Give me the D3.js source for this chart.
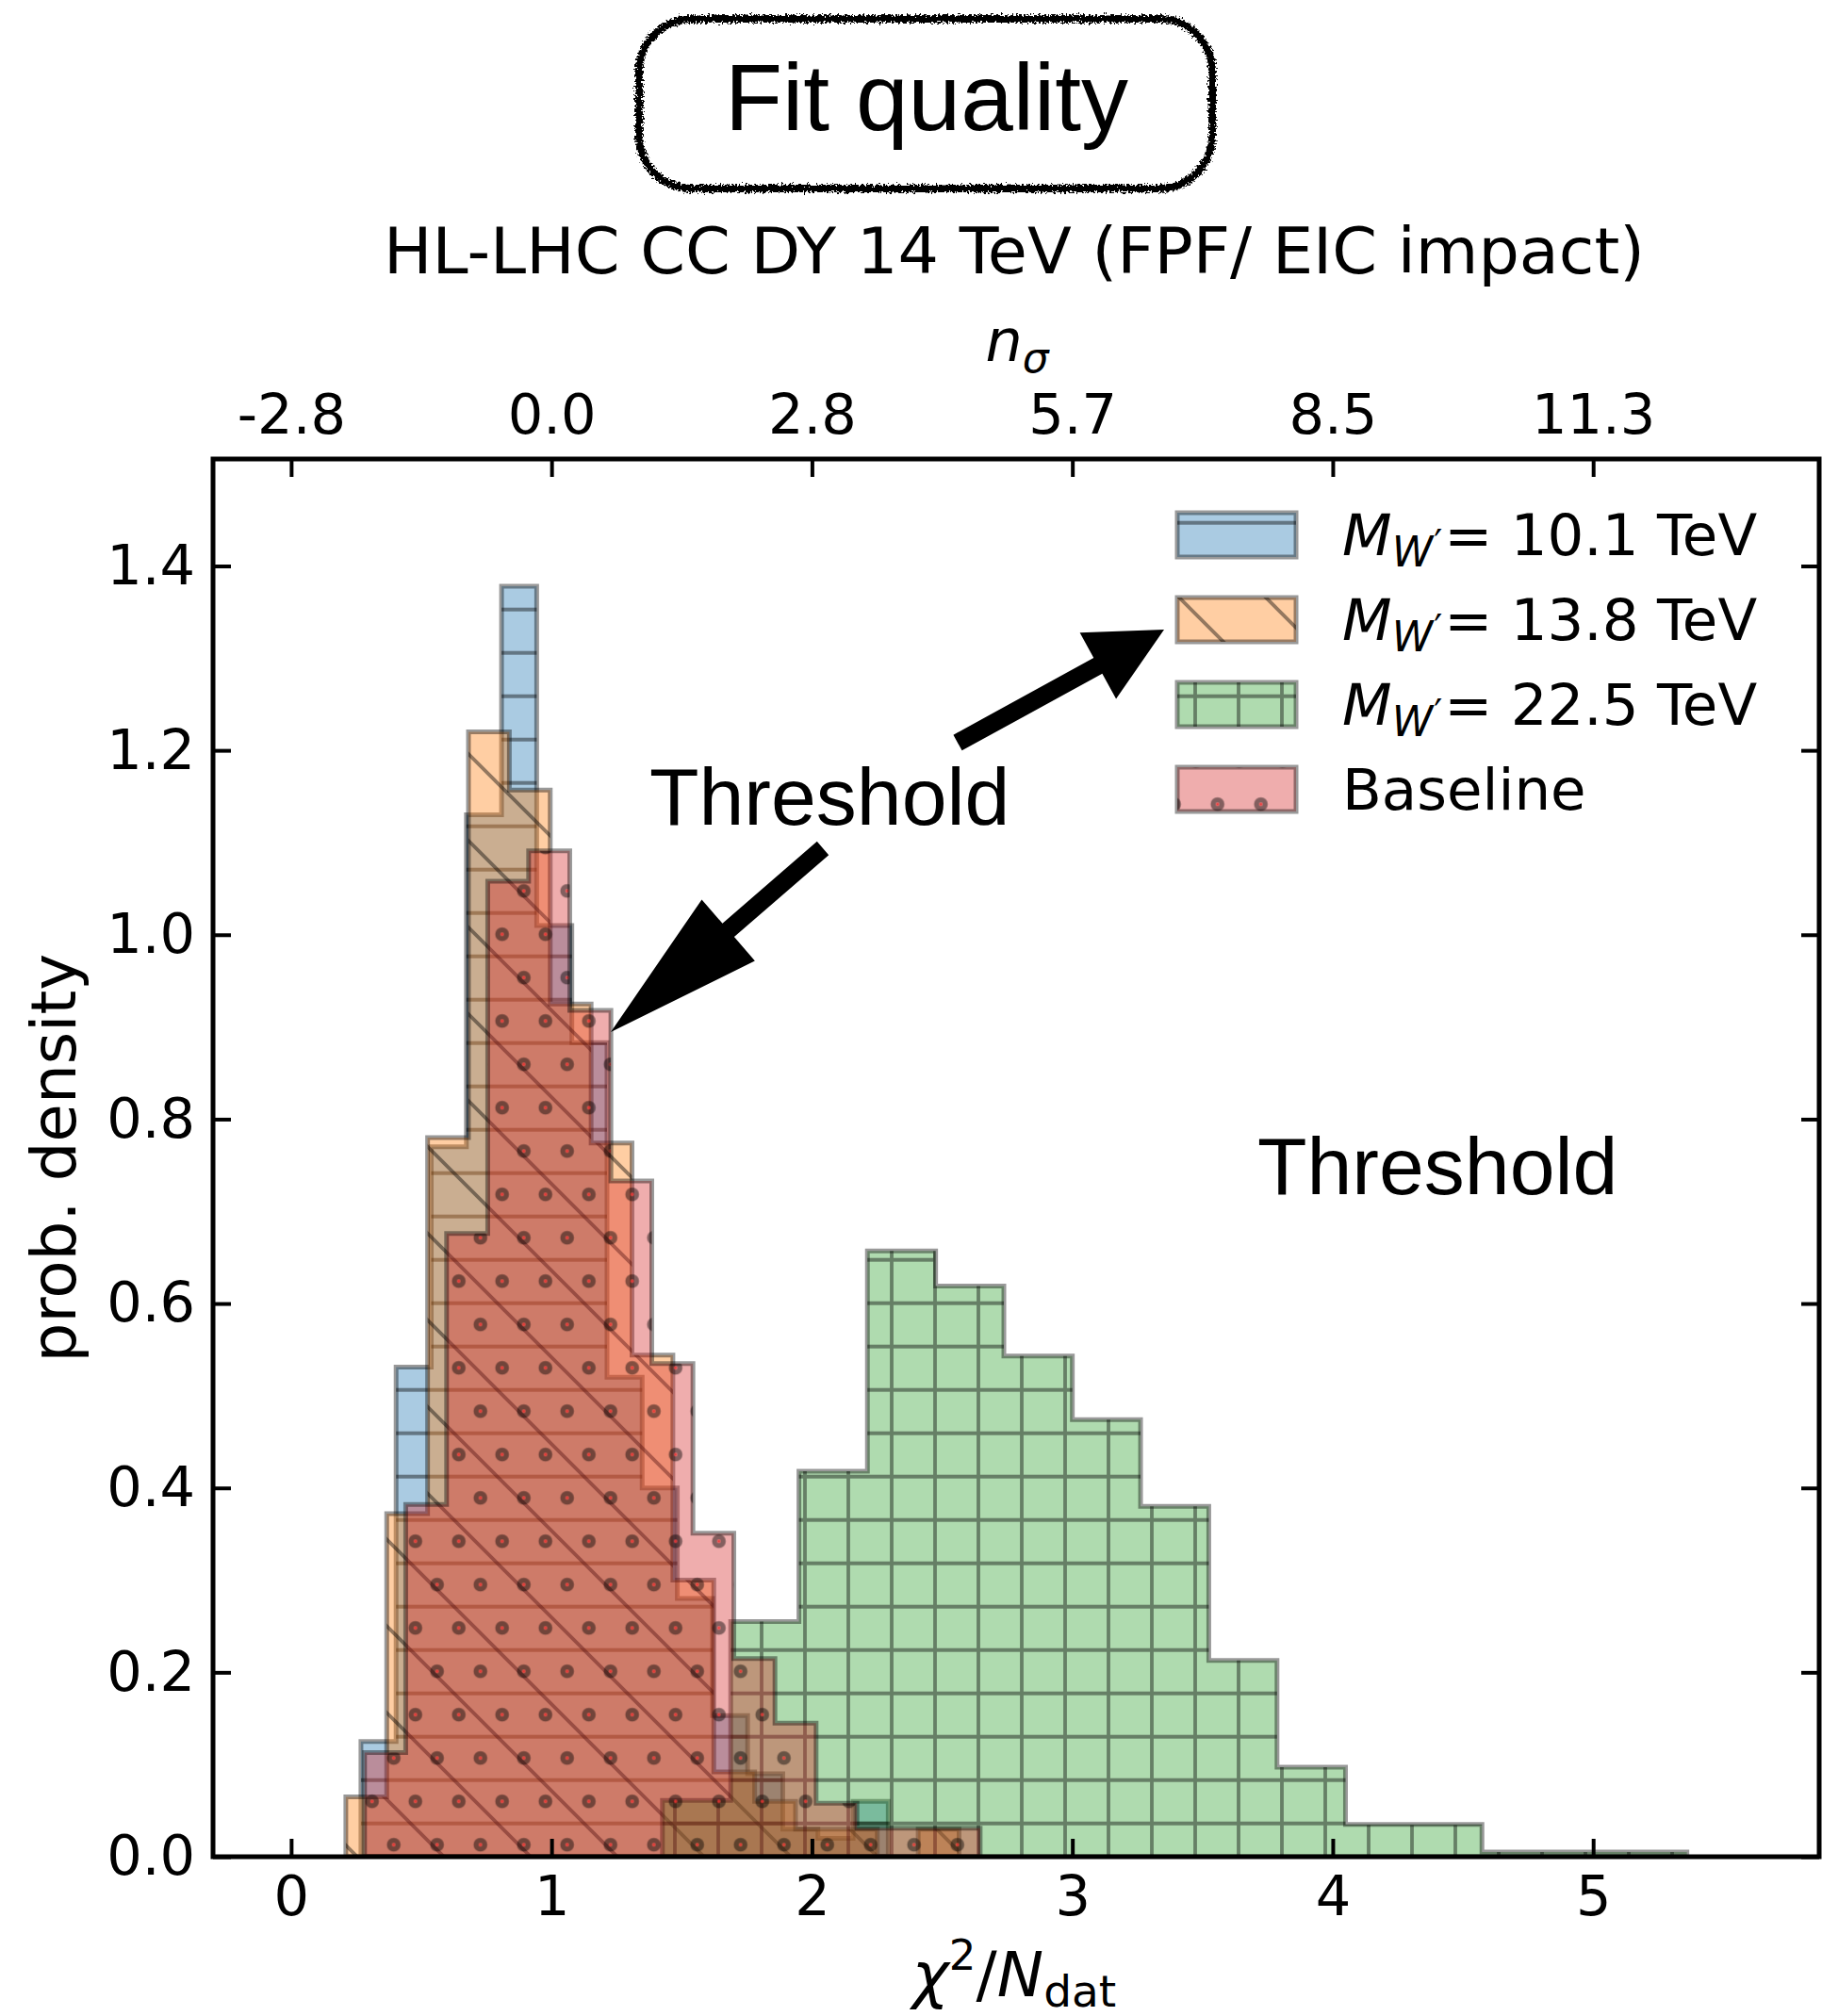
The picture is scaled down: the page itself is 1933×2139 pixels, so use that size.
<!DOCTYPE html>
<html><head><meta charset="utf-8">
<script src="https://cdn.jsdelivr.net/npm/d3@7/dist/d3.min.js"></script>
<style>
body{margin:0;background:#fff}
</style>
</head><body>
<svg id="c" width="1933" height="2139" xmlns="http://www.w3.org/2000/svg" font-family="DejaVu Sans"></svg>
<script>
// ---------------- data ----------------
const blueEdges   = [0.268,0.403,0.538,0.673,0.808,0.943,1.078,1.213,1.348,1.483,1.618,1.753,1.888,2.023,2.158,2.293];
const blueDensity = [0.125,0.531,0.770,1.130,1.378,1.010,0.883,0.520,0.400,0.280,0.153,0.090,0.030,0.020,0.060];

const orangeEdges   = [0.210,0.367,0.524,0.681,0.838,0.995,1.152,1.309,1.466,1.623,1.780,1.937,2.094,2.251,2.408,2.565];
const orangeDensity = [0.065,0.372,0.780,1.220,1.157,0.925,0.774,0.544,0.300,0.092,0.060,0.030,0.030,0.000,0.030];

const greenEdges   = [1.426,1.688,1.950,2.213,2.475,2.737,3.000,3.262,3.524,3.786,4.049,4.311,4.573,4.835,5.098,5.360];
const greenDensity = [0.061,0.255,0.418,0.657,0.619,0.543,0.474,0.380,0.213,0.097,0.035,0.035,0.005,0.005,0.005];

const redEdges   = [0.282,0.440,0.597,0.755,0.912,1.070,1.228,1.385,1.543,1.700,1.858,2.016,2.173,2.331,2.488,2.646];
const redDensity = [0.113,0.382,0.676,1.058,1.091,0.918,0.733,0.535,0.351,0.215,0.145,0.058,0.031,0.031,0.031];

const seriesNames  = ["10.1","13.8","22.5","Baseline"];
const seriesColors = ["#1f77b4","#ff7f0e","#2ca02c","#d62728"];

const xTicks = [0,1,2,3,4,5];
const nSigmaLabels = ["-2.8","0.0","2.8","5.7","8.5","11.3"];
const yTicks = [0,0.2,0.4,0.6,0.8,1.0,1.2,1.4];

const xDomain = [-0.3, 5.868];
const yDomain = [0, 1.516];

// ---------------- layout ----------------
const L = 226, R = 1930, T = 487, B = 1970;
const svg = d3.select("#c");
const x = d3.scaleLinear().domain(xDomain).range([L, R]);
const y = d3.scaleLinear().domain(yDomain).range([B, T]);
const SANS = "DejaVu Sans", HELV = "'Liberation Sans', Arial, sans-serif";

const defs = svg.append("defs");
defs.append("clipPath").attr("id","plotclip").append("rect")
  .attr("x",L).attr("y",T).attr("width",R-L).attr("height",B-T);

const hatchCol = "rgba(0,0,0,0.42)";
const hw = 3.8;
// blue '-'
{
  const p = defs.append("pattern").attr("id","hatch0").attr("patternUnits","userSpaceOnUse")
    .attr("width",46).attr("height",46).attr("patternTransform","translate(0,2.7)");
  p.append("path").attr("d","M-2,0H48M-2,46H48").attr("stroke",hatchCol).attr("stroke-width",hw);
}
// orange '\'
{
  const p = defs.append("pattern").attr("id","hatch1").attr("patternUnits","userSpaceOnUse")
    .attr("width",92).attr("height",92).attr("patternTransform","translate(65,0)");
  p.append("path").attr("d","M-10,-10L102,102M82,-10L102,10M-10,82L10,102")
    .attr("stroke",hatchCol).attr("stroke-width",hw).attr("fill","none");
}
// green '+'
{
  const p = defs.append("pattern").attr("id","hatch2").attr("patternUnits","userSpaceOnUse")
    .attr("width",46).attr("height",46).attr("patternTransform","translate(26,2.7)");
  p.append("path").attr("d","M-2,0H48M-2,46H48M0,-2V48M46,-2V48")
    .attr("stroke",hatchCol).attr("stroke-width",hw).attr("fill","none");
}
// red 'o'
{
  const p = defs.append("pattern").attr("id","hatch3").attr("patternUnits","userSpaceOnUse")
    .attr("width",46).attr("height",92).attr("patternTransform","translate(-19.3,2.3)");
  [[23,23],[0,69],[46,69]].forEach(([cx,cy])=>{
    p.append("circle").attr("cx",cx).attr("cy",cy).attr("r",4.6).attr("fill","none")
      .attr("stroke","rgba(0,0,0,0.45)").attr("stroke-width",5.4);
    p.append("circle").attr("cx",cx).attr("cy",cy).attr("r",1.7).attr("fill","rgba(235,45,45,0.85)");
  });
}

// rough filter for the title box
const f = defs.append("filter").attr("id","rough").attr("x","-5%").attr("y","-10%").attr("width","110%").attr("height","120%");
f.append("feTurbulence").attr("type","fractalNoise").attr("baseFrequency",0.45).attr("numOctaves",3).attr("seed",7).attr("result","n");
f.append("feDisplacementMap").attr("in","SourceGraphic").attr("in2","n").attr("scale",9)
  .attr("xChannelSelector","R").attr("yChannelSelector","G");

// ---------------- histograms ----------------
const series = [
  {edges: blueEdges,   vals: blueDensity},
  {edges: orangeEdges, vals: orangeDensity},
  {edges: greenEdges,  vals: greenDensity},
  {edges: redEdges,    vals: redDensity}
];
function stepPoints(edges, vals){
  const pts = [[edges[0],0]];
  vals.forEach((v,i)=>{ pts.push([edges[i],v]); pts.push([edges[i+1],v]); });
  pts.push([edges[edges.length-1],0]);
  return pts;
}
const line = d3.line().x(d=>x(d[0])).y(d=>y(d[1]));
const FILL_A = 0.38, EDGE = "rgba(0,0,0,0.40)";
const gPlot = svg.append("g").attr("clip-path","url(#plotclip)");
series.forEach((s,i)=>{
  const d = line(stepPoints(s.edges, s.vals)) + "Z";
  const g = gPlot.append("g");
  g.append("path").attr("d",d).attr("fill",seriesColors[i]).attr("fill-opacity",FILL_A);
  g.append("path").attr("d",d).attr("fill",`url(#hatch${i})`);
  g.append("path").attr("d",d).attr("fill","none").attr("stroke",EDGE).attr("stroke-width",5).attr("stroke-linejoin","miter");
});

// ---------------- axes ----------------
const tickLen = 19;
function styleAxis(g){
  g.select(".domain").remove();
  g.selectAll(".tick line").attr("stroke","#000").attr("stroke-width",4);
  g.selectAll(".tick text").style("font-family",SANS).attr("font-size",59).attr("fill","#000");
}
svg.append("g").attr("transform",`translate(0,${B})`)
  .call(d3.axisBottom(x).tickValues(xTicks).tickFormat(d3.format("d")).tickSize(-tickLen).tickPadding(20))
  .call(styleAxis);
svg.append("g").attr("transform",`translate(0,${T})`)
  .call(d3.axisTop(x).tickValues(xTicks).tickFormat((d,i)=>nSigmaLabels[i]).tickSize(-tickLen).tickPadding(27))
  .call(styleAxis);
svg.append("g").attr("transform",`translate(${L},0)`)
  .call(d3.axisLeft(y).tickValues(yTicks).tickFormat(d3.format(".1f")).tickSize(-tickLen).tickPadding(19))
  .call(styleAxis);
svg.append("g").attr("transform",`translate(${R},0)`)
  .call(d3.axisRight(y).tickValues(yTicks).tickFormat("").tickSize(-tickLen))
  .call(styleAxis);
svg.append("rect").attr("x",L).attr("y",T).attr("width",R-L).attr("height",B-T)
  .attr("fill","none").attr("stroke","#000").attr("stroke-width",5);

// axis labels
svg.append("text").attr("x",68).attr("y",(T+B)/2+12).attr("text-anchor","middle").style("font-family",SANS)
  .attr("transform",`rotate(-90,68,${(T+B)/2})`).attr("font-size",66).text("prob. density");
{
  const t = svg.append("text").attr("x",1076).attr("y",2118).attr("text-anchor","middle").attr("font-size",66).style("font-family",SANS);
  t.append("tspan").attr("font-style","italic").text("χ");
  t.append("tspan").attr("font-size",45).attr("dy",-28).text("2");
  t.append("tspan").attr("dy",28).text("/");
  t.append("tspan").attr("font-style","italic").text("N");
  t.append("tspan").attr("font-size",47).attr("dy",11).text("dat");
}
{
  const t = svg.append("text").attr("x",1079).attr("y",383).attr("text-anchor","middle").attr("font-size",62).style("font-family",SANS);
  t.append("tspan").attr("font-style","italic").text("n");
  t.append("tspan").attr("font-style","italic").attr("font-size",44).attr("dy",12).text("σ");
}

// subtitle
{
  const t = svg.append("text").attr("x",1076).attr("y",290).attr("text-anchor","middle").attr("font-size",60).style("font-family",SANS)
    .text("HL-LHC CC DY 14 TeV (FPF/ EIC impact)");
  const w = t.node().getComputedTextLength();
  t.attr("font-size", 60*1338/w);
}

// title box
svg.append("rect").attr("x",678).attr("y",20).attr("width",608).attr("height",180).attr("rx",56).attr("ry",56)
  .attr("fill","none").attr("stroke","#000").attr("stroke-width",8).attr("filter","url(#rough)");
svg.append("text").attr("x",983).attr("y",138).attr("text-anchor","middle")
  .style("font-family",HELV).attr("font-size",100).text("Fit quality");

// ---------------- legend ----------------
const legY = [544,634,724,814];
seriesNames.forEach((n,i)=>{
  const g = svg.append("g");
  const r = [1249,legY[i],126,47];
  g.append("rect").attr("x",r[0]).attr("y",r[1]).attr("width",r[2]).attr("height",r[3])
    .attr("fill",seriesColors[i]).attr("fill-opacity",FILL_A);
  g.append("rect").attr("x",r[0]).attr("y",r[1]).attr("width",r[2]).attr("height",r[3])
    .attr("fill",`url(#hatch${i})`);
  g.append("rect").attr("x",r[0]).attr("y",r[1]).attr("width",r[2]).attr("height",r[3])
    .attr("fill","none").attr("stroke",EDGE).attr("stroke-width",5);
  const t = g.append("text").attr("x",1424).attr("y",legY[i]+45).attr("font-size",61).style("font-family",SANS);
  if (n === "Baseline") { t.text("Baseline"); }
  else {
    t.append("tspan").attr("font-style","italic").text("M");
    t.append("tspan").attr("font-style","italic").attr("font-size",44).attr("dy",12).text("W");
    t.append("tspan").attr("font-size",40).attr("dx",1).attr("dy",-10).text("′");
    t.append("tspan").attr("dx",2).attr("dy",-2).text("= " + n + " TeV");
  }
});

// ---------------- annotations ----------------
function arrow(tail, tip, w, hwid, hl){
  const dx = tip[0]-tail[0], dy = tip[1]-tail[1], len = Math.hypot(dx,dy);
  const u = [dx/len, dy/len], n = [-u[1], u[0]];
  const b = [tip[0]-hl*u[0], tip[1]-hl*u[1]];
  const P = (p,k)=>[p[0]+n[0]*k, p[1]+n[1]*k];
  const pts = [P(tail,w/2), P(b,w/2), P(b,hwid/2), tip, P(b,-hwid/2), P(b,-w/2), P(tail,-w/2)];
  svg.append("path").attr("d","M"+pts.map(p=>p.join(",")).join("L")+"Z").attr("fill","#000");
}
arrow([873,900],[648,1095],19,86,165);
arrow([1016,788],[1235,668],19,80,80);

svg.append("text").attr("x",689).attr("y",875).style("font-family",HELV).attr("font-size",86).text("Threshold");
svg.append("text").attr("x",1334).attr("y",1267).style("font-family",HELV).attr("font-size",86).text("Threshold");
</script>
</body></html>
